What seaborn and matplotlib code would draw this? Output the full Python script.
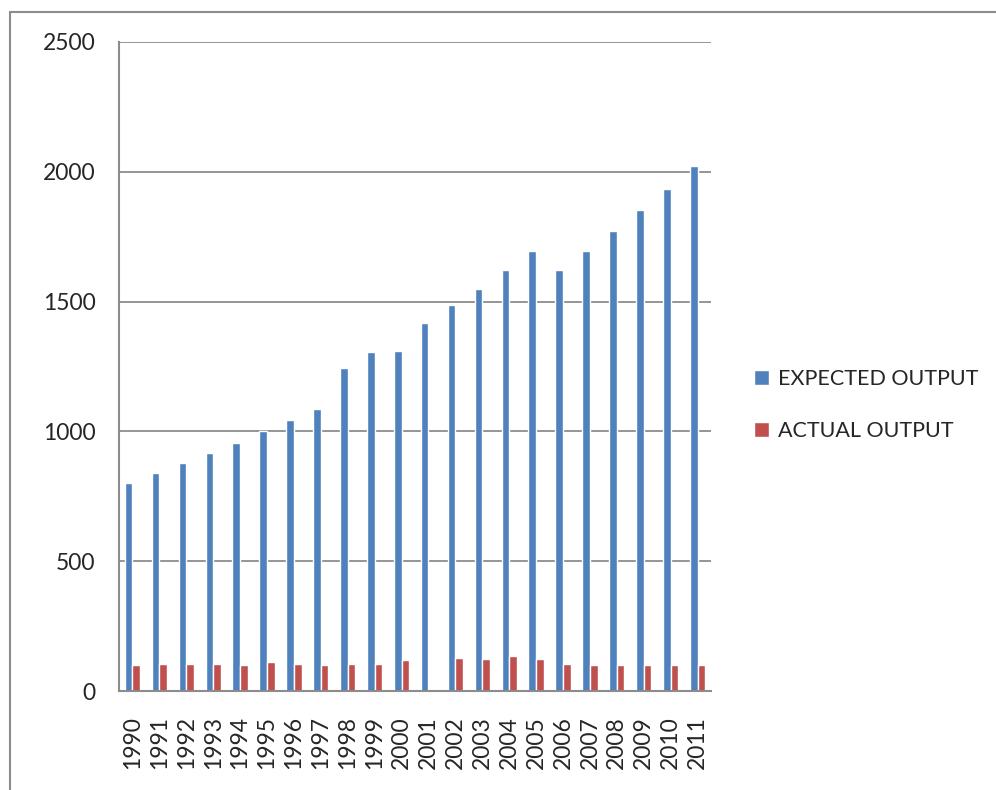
import pandas as pd
import numpy as np
import matplotlib
matplotlib.use('Agg')
import matplotlib.pyplot as plt
from matplotlib.lines import Line2D
import seaborn as sns

years = [str(y) for y in range(1990, 2012)]
expected = [800, 838, 877, 915, 954, 1000, 1042, 1088, 1246, 1304, 1308,
            1419, 1485, 1550, 1623, 1696, 1623, 1696, 1773, 1854, 1935, 2023]
actual = [100, 103, 104, 103, 100, 110, 103, 99, 105, 105, 118,
          0, 126, 122, 134, 125, 105, 100, 100, 99, 99, 99]
series = ['EXPECTED OUTPUT', 'ACTUAL OUTPUT']
colors = ['#4F81BD', '#C0504D']

df = pd.DataFrame({'year': years * 2,
                   'value': expected + actual,
                   'series': [series[0]] * len(years) + [series[1]] * len(years)})

sns.set_style('white')
plt.rcParams['font.family'] = ['Lato', 'DejaVu Sans']
grid_c = '#8c8c8c'
fs = 16.5

fig = plt.figure(figsize=(9.96, 7.90), dpi=100)
ax = fig.add_axes([119 / 996, 1 - 691 / 790, 592 / 996, 649 / 790])

sns.barplot(data=df, x='year', y='value', hue='series', palette=colors,
            width=0.57, saturation=1, ax=ax, legend=True)

ax.set_ylim(0, 2500)
ax.set_xlim(-0.5, len(years) - 0.5)
ax.set_yticks([0, 500, 1000, 1500, 2000, 2500])
ax.yaxis.grid(True, color=grid_c, linewidth=1.3)
ax.set_axisbelow(True)
ax.set_xlabel('')
ax.set_ylabel('')
for s in ['top', 'right']:
    ax.spines[s].set_visible(False)
for s in ['left', 'bottom']:
    ax.spines[s].set_color(grid_c)
    ax.spines[s].set_linewidth(1.5)

ax.tick_params(axis='y', length=5, width=1.3, color=grid_c, pad=12, labelsize=fs)
ax.tick_params(axis='x', which='major', length=0, pad=18, labelsize=fs, rotation=90)
ax.set_xticks(np.arange(-0.5, len(years)), minor=True)
ax.tick_params(axis='x', which='minor', length=5, width=1.3, color=grid_c)

handles, labels = ax.get_legend_handles_labels()
ax.get_legend().remove()
fig.legend(handles, labels, loc='center left', bbox_to_anchor=(735 / 996, 1 - 405 / 790),
           frameon=False, fontsize=15.5, handlelength=0.68, handleheight=0.68,
           handletextpad=0.4, labelspacing=1.5)

# outer chart border
fig.add_artist(Line2D([10 / 996, 1], [1 - 12 / 790] * 2, color=grid_c, linewidth=1.5,
                      transform=fig.transFigure))
fig.add_artist(Line2D([10 / 996] * 2, [0, 1 - 12 / 790], color=grid_c, linewidth=1.5,
                      transform=fig.transFigure))

fig.savefig('out.png', dpi=100)
